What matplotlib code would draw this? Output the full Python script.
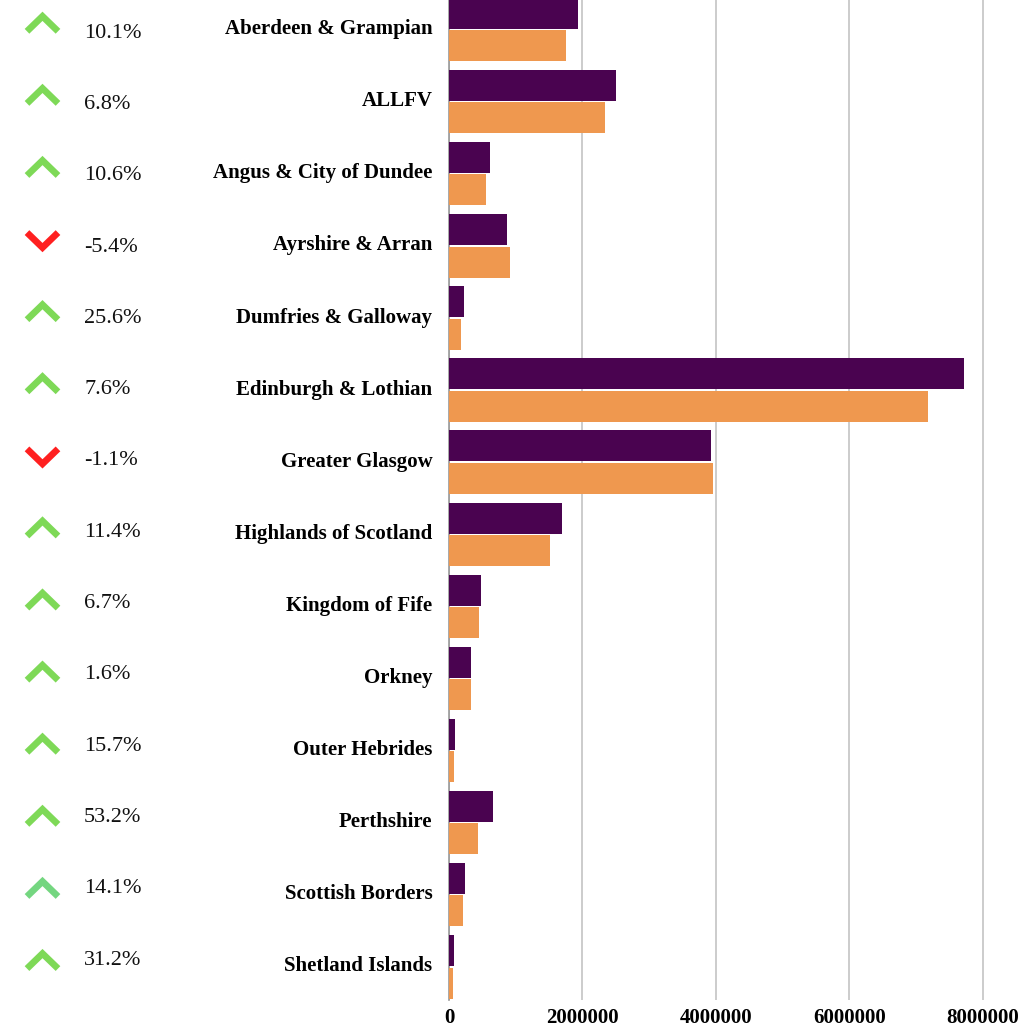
import matplotlib.pyplot as plt
import matplotlib.ticker as mticker
import numpy as np

# Data
regions = ['Aberdeen & Grampian', 'ALLFV', 'Angus & City of Dundee', 'Ayrshire & Arran',
           'Dumfries & Galloway', 'Edinburgh & Lothian', 'Greater Glasgow',
           'Highlands of Scotland', 'Kingdom of Fife', 'Orkney', 'Outer Hebrides',
           'Perthshire', 'Scottish Borders', 'Shetland Islands']
current = [1930000, 2500000, 614000, 869000, 226000, 7720000, 3920000,
           1690000, 480000, 330000, 90000, 659000, 240000, 75000]
previous = [1750000, 2340000, 555000, 914000, 180000, 7180000, 3960000,
            1515000, 450000, 325000, 78000, 430000, 210000, 57000]
pct_change = ['10.1%', '6.8%', '10.6%', '-5.4%', '25.6%', '7.6%', '-1.1%',
              '11.4%', '6.7%', '1.6%', '15.7%', '53.2%', '14.1%', '31.2%']
arrow_up = [True, True, True, False, True, True, False,
            True, True, True, True, True, True, True]
xticks = [0, 2000000, 4000000, 6000000, 8000000]

purple = '#4a0350'
orange = '#ef984f'
green = '#7ed957'
green2 = '#74d680'
red = '#ff2020'
arrow_colors = [green, green, green, red, green, green, red,
                green, green, green, green, green, green2, green]

W, H = 1023, 1028
fig = plt.figure(figsize=(W / 100, H / 100), dpi=100)
ax_left = 449 / W
ax_bottom = (H - 1000) / H
ax = fig.add_axes([ax_left, ax_bottom, 1 - ax_left, 1000 / H])
side = fig.add_axes([0, ax_bottom, ax_left, 1000 / H])

y = np.arange(len(regions))
ylim = (13.46, -0.41)
bh = 0.43
ax.barh(y - 0.225, current, height=bh, color=purple, zorder=3)
ax.barh(y + 0.225, previous, height=bh, color=orange, zorder=3)

ax.set_ylim(*ylim)
ax.set_xlim(0, 8600000)
ax.set_xticks(xticks)
ax.xaxis.set_major_formatter(mticker.FuncFormatter(lambda v, p: f'{int(v)}'))
ax.set_yticks(y - 0.04)
ax.set_yticklabels(regions)
ax.tick_params(axis='both', length=0)
ax.tick_params(axis='y', pad=12)
ax.tick_params(axis='x', pad=6)
for lab in ax.get_yticklabels():
    lab.set_fontfamily('Liberation Serif')
    lab.set_fontweight('bold')
    lab.set_fontsize(15)
for lab in ax.get_xticklabels():
    lab.set_fontfamily('Liberation Serif')
    lab.set_fontweight('bold')
    lab.set_fontsize(15)
ax.grid(axis='x', color='#c8c8c8', linewidth=1.3, zorder=0)
for s in ['top', 'right', 'bottom']:
    ax.spines[s].set_visible(False)
ax.spines['left'].set_color('#999999')
ax.spines['left'].set_linewidth(1.2)

# Side panel with arrows and percentages
side.set_xlim(0, 449)
side.set_ylim(*ylim)
side.axis('off')
row_px = 72.1
for i, (txt, up) in enumerate(zip(pct_change, arrow_up)):
    yc = i - 0.08
    dy = 7.5 / row_px
    if up:
        ys = [yc + dy, yc - dy, yc + dy]
    else:
        ys = [yc - dy, yc + dy, yc - dy]
    side.plot([27, 42.5, 58], ys, color=arrow_colors[i], linewidth=4.8,
              solid_joinstyle='miter', solid_capstyle='butt')
    side.text(84, i * 0.989 + 0.05, txt, ha='left', va='center',
              fontfamily='Liberation Serif', fontsize=16, color='#111111')

fig.savefig('out.png', dpi=100)
